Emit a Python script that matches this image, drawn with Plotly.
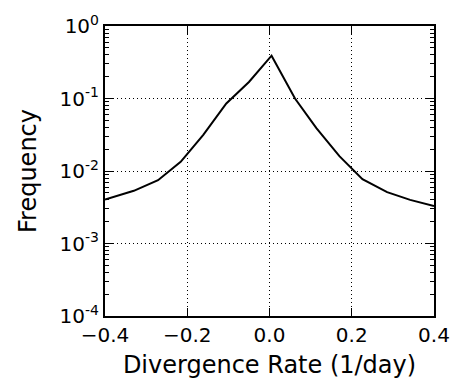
import plotly.graph_objects as go

# Data
rate = [-0.400, -0.330, -0.271, -0.216, -0.161, -0.105, -0.050, 0.005,
        0.062, 0.114, 0.170, 0.226, 0.286, 0.342, 0.400]
freq = [0.00403, 0.00533, 0.00746, 0.0134, 0.0316, 0.0855, 0.169, 0.39,
        0.100, 0.039, 0.016, 0.0077, 0.0051, 0.0040, 0.0033]

x_tickvals = [-0.4, -0.2, 0.0, 0.2, 0.4]
x_ticktext = ["\u22120.4", "\u22120.2", "0.0", "0.2", "0.4"]
y_tickvals = [1e-4, 1e-3, 1e-2, 1e-1, 1e0]
y_ticktext = ["10<sup>-4</sup>", "10<sup>-3</sup>", "10<sup>-2</sup>",
              "10<sup>-1</sup>", "10<sup>0</sup>"]

fig = go.Figure()
fig.add_trace(go.Scatter(x=rate, y=freq, mode="lines",
                         line=dict(color="black", width=2), showlegend=False))

font = dict(family="DejaVu Sans", size=20, color="black")
fig.update_layout(
    width=462, height=386,
    margin=dict(l=105, r=23, t=23, b=70),
    paper_bgcolor="white", plot_bgcolor="white",
    font=font,
    xaxis=dict(range=[-0.4, 0.4], tickvals=x_tickvals, ticktext=x_ticktext,
               showline=True, linecolor="black", linewidth=2, mirror="allticks",
               ticks="inside", ticklen=8, tickcolor="black", tickwidth=1,
               showgrid=True, gridcolor="black", griddash="1px,3px", gridwidth=1,
               zeroline=False,
               title=dict(text="Divergence Rate (1/day)", standoff=10)),
    yaxis=dict(type="log", range=[-4, 0], tickvals=y_tickvals, ticktext=y_ticktext,
               showline=True, linecolor="black", linewidth=2, mirror="allticks",
               ticks="inside", ticklen=8, tickcolor="black", tickwidth=1,
               minor=dict(ticks="inside", ticklen=4, tickcolor="black",
                          tickwidth=1, dtick="D1", showgrid=False),
               showgrid=True, gridcolor="black", griddash="1px,3px", gridwidth=1,
               zeroline=False,
               title=dict(text="Frequency", standoff=16)),
)
fig.write_html("out.html")
